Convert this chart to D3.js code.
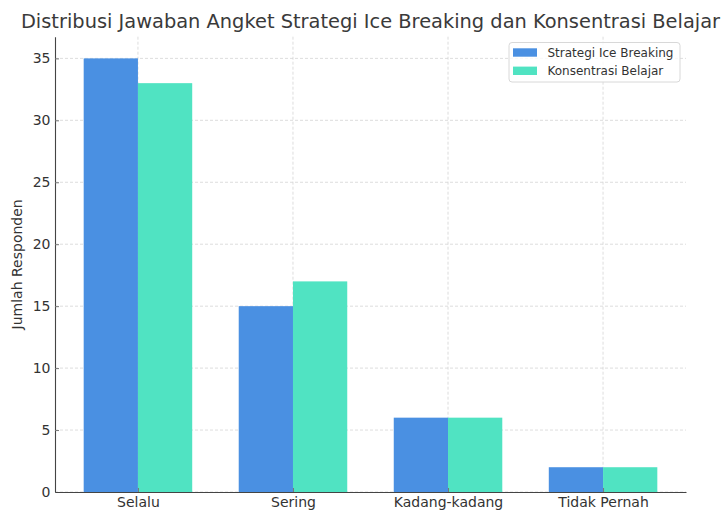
<!DOCTYPE html>
<html><head><meta charset="utf-8">
<script src="https://cdn.jsdelivr.net/npm/d3@7"></script>
<style>body{margin:0;background:#fff}svg{display:block}text{font-family:"DejaVu Sans",sans-serif}</style>
</head><body>
<script>
const categories = ["Selalu", "Sering", "Kadang-kadang", "Tidak Pernah"];
const seriesNames = ["Strategi Ice Breaking", "Konsentrasi Belajar"];
const iceBreaking = [35, 15, 6, 2];
const konsentrasi = [33, 17, 6, 2];
const yTicks = [0, 5, 10, 15, 20, 25, 30, 35];
const colors = ["#4A90E2", "#50E3C2"];
const title = "Distribusi Jawaban Angket Strategi Ice Breaking dan Konsentrasi Belajar";
const yLabel = "Jumlah Responden";

const W = 722, H = 511;
const m = {l: 55, r: 686, t: 36.7, b: 492};
const barW = 0.35;
const svg = d3.select("body").append("svg").attr("width", W).attr("height", H);

const x = d3.scaleLinear().domain([-0.535, 3.535]).range([m.l, m.r]);
const y = d3.scaleLinear().domain([0, 36.75]).range([m.b, m.t]);

// grid
const g = svg.append("g");
g.selectAll(".hg").data(yTicks).join("line")
  .attr("x1", m.l).attr("x2", m.r).attr("y1", d => y(d)).attr("y2", d => y(d))
  .attr("stroke", "#d4d4d4").attr("stroke-width", 0.8).attr("stroke-dasharray", "3,2");
g.selectAll(".vg").data(categories).join("line")
  .attr("x1", (d, i) => x(i)).attr("x2", (d, i) => x(i)).attr("y1", m.t).attr("y2", m.b)
  .attr("stroke", "#d4d4d4").attr("stroke-width", 0.8).attr("stroke-dasharray", "3,2");

// bars
const series = [iceBreaking, konsentrasi];
series.forEach((vals, s) => {
  svg.append("g").selectAll("rect").data(vals).join("rect")
    .attr("x", (d, i) => x(i + (s === 0 ? -barW : 0)))
    .attr("width", (d, i) => x(i + barW) - x(i))
    .attr("y", d => y(d))
    .attr("height", d => y(0) - y(d))
    .attr("fill", colors[s]);
});

// axes
const yAxis = d3.axisLeft(y).tickValues(yTicks).tickSizeInner(-4).tickSizeOuter(0).tickPadding(4.5);
const ya = svg.append("g").attr("transform", `translate(${m.l},0)`).call(yAxis);
ya.select(".domain").attr("stroke", "#444").attr("stroke-width", 1.1);
ya.selectAll(".tick line").attr("stroke", "#777");
ya.selectAll(".tick text").attr("font-size", 14).attr("fill", "#333").attr("font-family", "DejaVu Sans");

const xAxis = d3.axisBottom(x).tickValues(d3.range(categories.length)).tickFormat(i => categories[i])
  .tickSizeInner(-4).tickSizeOuter(0).tickPadding(5);
const xa = svg.append("g").attr("transform", `translate(0,${m.b})`).call(xAxis);
xa.select(".domain").attr("stroke", "#444").attr("stroke-width", 1.1);
xa.selectAll(".tick line").attr("stroke", "#777");
xa.selectAll(".tick text").attr("font-size", 14).attr("fill", "#333").attr("font-family", "DejaVu Sans");

// title
svg.append("text").attr("x", (m.l + m.r) / 2).attr("y", 28).attr("text-anchor", "middle")
  .attr("font-size", 19.4).attr("fill", "#3a3a3a").text(title);

// y label
svg.append("text").attr("transform", `translate(22,${(m.t + m.b) / 2}) rotate(-90)`)
  .attr("text-anchor", "middle").attr("font-size", 14).attr("fill", "#333").text(yLabel);

// legend
const lg = svg.append("g");
lg.append("rect").attr("x", 509).attr("y", 42.5).attr("width", 171).attr("height", 39.5)
  .attr("rx", 3).attr("fill", "#fff").attr("fill-opacity", 0.8).attr("stroke", "#d8d8d8");
seriesNames.forEach((n, i) => {
  lg.append("rect").attr("x", 513).attr("y", 48.3 + i * 18.3).attr("width", 24).attr("height", 8.4).attr("fill", colors[i]);
  lg.append("text").attr("x", 547.5).attr("y", 57 + i * 18.3).attr("font-size", 12).attr("fill", "#333").text(n);
});
</script>
</body></html>
